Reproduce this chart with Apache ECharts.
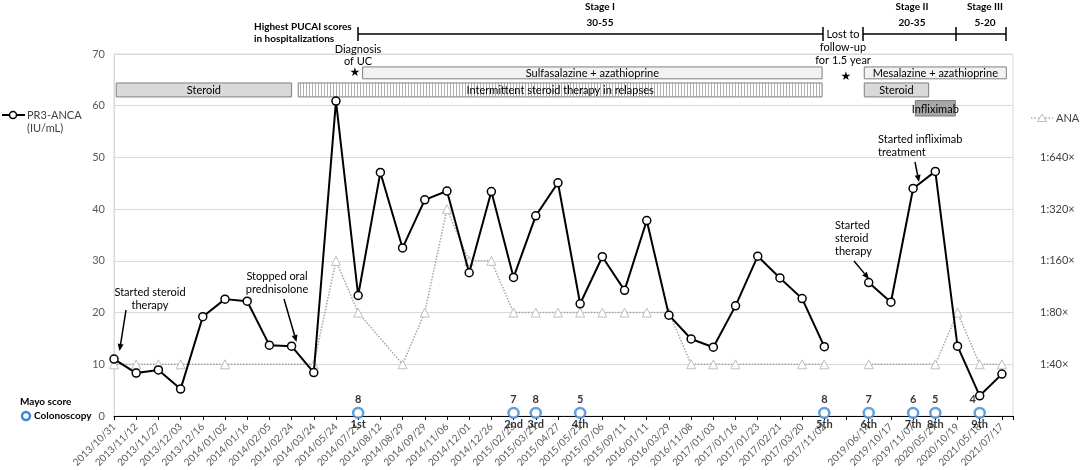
<!DOCTYPE html>
<html>
<head>
<meta charset="utf-8">
<script src="https://cdn.jsdelivr.net/npm/echarts@6/dist/echarts.min.js"></script>
<style>
  html, body { margin: 0; padding: 0; background: #fff; }
  #chart { width: 1084px; height: 470px; }
</style>
</head>
<body>
<div id="chart"></div>
<script>
// PR3-ANCA and ANA course with treatments and colonoscopies

// visit dates (blank = 1.5 year lost to follow-up)
const categories = [
  '2013/10/31', '2013/11/12', '2013/11/27', '2013/12/03', '2013/12/16', '2014/01/02',
  '2014/01/16', '2014/02/05', '2014/02/24', '2014/03/24', '2014/05/24', '2014/07/21',
  '2014/08/12', '2014/08/29', '2014/09/29', '2014/11/06', '2014/12/01', '2014/12/26',
  '2015/02/23', '2015/03/21', '2015/04/27', '2015/05/21', '2015/07/06', '2015/09/11',
  '2016/01/11', '2016/03/29', '2016/11/08', '2017/01/03', '2017/01/16', '2017/01/23',
  '2017/02/21', '2017/03/20', '2017/11/02', '', '2019/06/14', '2019/10/17',
  '2019/11/07', '2020/05/29', '2020/10/19', '2021/05/18', '2021/07/17'
];

// PR3-ANCA (IU/mL)
const pr3 = [
  11.0, 8.3, 8.9, 5.2, 19.2, 22.6, 22.2, 13.7, 13.5, 8.4, 60.9, 23.3,
  47.1, 32.5, 41.8, 43.5, 27.7, 43.4, 26.8, 38.7, 45.1, 21.7, 30.8, 24.3,
  37.8, 19.5, 14.9, 13.3, 21.3, 30.9, 26.7, 22.7, 13.4, null, 25.8, 22.0,
  44.0, 47.3, 13.5, 3.9, 8.1
];

// ANA titer level (10 = 1:40, 20 = 1:80 ...), null = not measured
const ana = [
  10, 10, 10, 10, null, 10, null, null, null, 10, 30, 20,
  null, 10, 20, 40, 30, 30, 20, 20, 20, 20, 20, 20,
  20, 20, 10, 10, 10, null, null, 10, 10, null, 10, null,
  null, 10, 20, 10, 10
];
const anaTicks = ['', '1:40×', '1:80×', '1:160×', '1:320×', '1:640×', '', ''];

// colonoscopies
const colonoscopyDates = ['2014/07/21', '2015/02/23', '2015/03/21', '2015/05/21', '2017/11/02',
  '2019/06/14', '2019/11/07', '2020/05/29', '2021/05/18'];
const mayoScores = [8, 7, 8, 5, 8, 7, 6, 5, 4];
const colonoscopyNames = ['1st', '2nd', '3rd', '4th', '5th', '6th', '7th', '8th', '9th'];

// treatments (spans in visit index)
const treatments = ['Steroid', 'Intermittent steroid therapy in relapses', 'Sulfasalazine + azathioprine',
  'Mesalazine + azathioprine', 'Steroid', 'Infliximab'];
const treatmentFrom = [0.1, 8.3, 11.2, 33.8, 33.8, 36.1];
const treatmentTo = [8.0, 31.9, 31.9, 40.2, 36.7, 37.9];
const treatmentRow = [1, 1, 0, 0, 1, 2];

const FONT = 'Lato, "Open Sans", sans-serif';
const gap = categories.indexOf('');
const boxRows = [[67.5, 65.2], [64.4, 61.7], [61.0, 58.0]];
const boxFill = ['#d9d9d9', 'hatch', '#f2f2f2', '#f2f2f2', '#d9d9d9', '#a6a6a6'];

// vertical hatch pattern for intermittent steroid box
const hatch = document.createElement('canvas');
hatch.width = 3; hatch.height = 4;
const hc = hatch.getContext('2d');
hc.fillStyle = '#fff'; hc.fillRect(0, 0, 3, 4);
hc.fillStyle = '#b0b0b0'; hc.fillRect(0, 0, 1, 4);

const pr3Data = pr3.map((v, i) => [i, v]);
const anaData = ana.map((v, i) => (i === gap ? [i, null] : (v == null ? null : [i, v]))).filter(d => d);
const colonoscopyData = colonoscopyDates.map((d, k) => [categories.indexOf(d), 0.6, mayoScores[k], colonoscopyNames[k]]);
const treatmentData = treatments.map((n, i) => [treatmentFrom[i], treatmentTo[i], treatmentRow[i]]);

let chart = echarts.init(document.getElementById('chart'));

function txt(text, x, y, o) {
  o = o || {};
  return {
    type: 'text', x: x, y: y, z: 50,
    style: {
      text: text, fill: o.color || '#000', fontSize: o.size || 11, fontFamily: o.family || FONT,
      fontWeight: o.bold ? 'bold' : 'normal', align: o.align || 'center', verticalAlign: 'middle'
    }
  };
}

function arrow(x1, y1, x2, y2) {
  const a = Math.atan2(y2 - y1, x2 - x1), L = 7, W = 3;
  const bx = x2 - L * Math.cos(a), by = y2 - L * Math.sin(a);
  return [
    { type: 'line', z: 50, shape: { x1: x1, y1: y1, x2: bx, y2: by }, style: { stroke: '#000', lineWidth: 1.5 } },
    { type: 'polygon', z: 50, shape: { points: [[x2, y2], [bx + W * Math.sin(a), by - W * Math.cos(a)], [bx - W * Math.sin(a), by + W * Math.cos(a)]] },
      style: { fill: '#000' } }
  ];
}

function tick(x) {
  return { type: 'line', z: 50, shape: { x1: x, y1: 27, x2: x, y2: 41 }, style: { stroke: '#000', lineWidth: 1.5 } };
}

const graphics = [
  // legends
  { type: 'line', shape: { x1: 2, y1: 115, x2: 25, y2: 115 }, style: { stroke: '#000', lineWidth: 2 } },
  { type: 'circle', shape: { cx: 13, cy: 115, r: 3.5 }, style: { fill: '#fff', stroke: '#000', lineWidth: 1.5 } },
  txt('PR3-ANCA', 27, 115, { align: 'left', color: '#404040' }),
  txt('(IU/mL)', 27, 128, { align: 'left', color: '#404040' }),
  { type: 'line', shape: { x1: 1031, y1: 118, x2: 1053, y2: 118 }, style: { stroke: '#a6a6a6', lineWidth: 1.5, lineDash: [1.5, 2] } },
  { type: 'polygon', shape: { points: [[1042, 114], [1046.5, 121.5], [1037.5, 121.5]] }, style: { fill: '#fff', stroke: '#bfbfbf', lineWidth: 1 } },
  txt('ANA', 1056, 118, { align: 'left', color: '#404040' }),
  txt('Mayo score', 20, 402, { align: 'left', size: 10, bold: true }),
  { type: 'circle', shape: { cx: 26, cy: 416, r: 4 }, style: { fill: '#fff', stroke: '#3a87d6', lineWidth: 2.5 } },
  txt('Colonoscopy', 34, 416, { align: 'left', size: 10, bold: true }),
  // PUCAI timeline
  txt('Highest PUCAI scores', 254, 27, { align: 'left', size: 10, bold: true }),
  txt('in hospitalizations', 254, 39, { align: 'left', size: 10, bold: true }),
  { type: 'line', shape: { x1: 358, y1: 34, x2: 823, y2: 34 }, style: { stroke: '#000', lineWidth: 1.5 } },
  { type: 'line', shape: { x1: 863, y1: 34, x2: 1006, y2: 34 }, style: { stroke: '#000', lineWidth: 1.5 } },
  tick(358), tick(823), tick(863), tick(956), tick(1006),
  txt('Stage I', 600, 7, { size: 10, bold: true }),
  txt('30-55', 600, 23, { size: 10, bold: true }),
  txt('Stage II', 912, 7, { size: 10, bold: true }),
  txt('20-35', 912, 23, { size: 10, bold: true }),
  txt('Stage III', 985, 7, { size: 10, bold: true }),
  txt('5-20', 985, 23, { size: 10, bold: true }),
  txt('Lost to', 843, 34), txt('follow-up', 843, 47), txt('for 1.5 year', 843, 60),
  txt('Diagnosis', 358, 49), txt('of UC', 358, 61),
  txt('★', 355, 73, { family: 'DejaVu Sans', size: 12 }),
  txt('★', 846, 77, { family: 'DejaVu Sans', size: 12 }),
  // notes
  txt('Started steroid', 150, 292), txt('therapy', 150, 305),
  ...arrow(126, 310, 119.5, 351),
  txt('Stopped oral', 277, 276), txt('prednisolone', 277, 289),
  ...arrow(284, 299, 296.5, 342),
  txt('Started', 835, 225, { align: 'left' }), txt('steroid', 835, 238, { align: 'left' }), txt('therapy', 835, 251, { align: 'left' }),
  ...arrow(854, 261, 869, 279),
  txt('Started infliximab', 878, 139, { align: 'left' }), txt('treatment', 878, 152, { align: 'left' }),
  ...arrow(915, 162, 919, 182)
];

let option = {
  animation: false,
  textStyle: { fontFamily: FONT },
  grid: { left: 114, right: 71, top: 54, bottom: 54, show: true, borderColor: '#d9d9d9', borderWidth: 1 },
  xAxis: {
    type: 'value', min: 0, max: 40.5, interval: 1,
    axisLine: { lineStyle: { color: '#000', width: 1 } },
    axisTick: { show: true, length: 4, lineStyle: { color: '#000' } },
    axisLabel: {
      rotate: 45, fontSize: 10, color: '#595959', margin: 9,
      showMinLabel: true, showMaxLabel: true,
      formatter: v => categories[v] || ''
    },
    splitLine: { show: false }
  },
  yAxis: [
    {
      type: 'value', min: 0, max: 70, interval: 10,
      axisLine: { show: true, lineStyle: { color: '#d9d9d9' } },
      axisTick: { show: false },
      axisLabel: { fontSize: 11, color: '#595959', margin: 9 },
      splitLine: { lineStyle: { color: '#d9d9d9', width: 1 } }
    },
    {
      type: 'value', min: 0, max: 70, interval: 10, position: 'right',
      axisLine: { show: false }, axisTick: { show: false },
      axisLabel: { fontSize: 11, color: '#404040', margin: 27, formatter: (v) => anaTicks[v / 10] || '' },
      splitLine: { show: false }
    }
  ],
  graphic: graphics,
  series: [
    {
      name: 'Treatments', type: 'custom', z: 3,
      data: treatmentData,
      encode: { x: [0, 1] },
      renderItem: function (params, api) {
        const i = params.dataIndex;
        const row = boxRows[api.value(2)];
        const p1 = api.coord([api.value(0), row[0]]);
        const p2 = api.coord([api.value(1), row[1]]);
        const fill = boxFill[i] === 'hatch' ? { image: hatch, repeat: 'repeat' } : boxFill[i];
        return {
          type: 'group',
          children: [
            { type: 'rect', shape: { x: p1[0], y: p1[1], width: p2[0] - p1[0], height: p2[1] - p1[1] },
              style: { fill: fill, stroke: '#7f7f7f', lineWidth: 1 } },
            { type: 'text', style: { text: treatments[i], x: (p1[0] + p2[0]) / 2, y: (p1[1] + p2[1]) / 2 + 1,
              align: 'center', verticalAlign: 'middle', fontSize: 11, fontFamily: FONT, fill: '#000' } }
          ]
        };
      }
    },
    {
      name: 'ANA', type: 'line', yAxisIndex: 1, z: 4,
      data: anaData,
      symbol: 'triangle', symbolSize: 9,
      lineStyle: { color: '#a6a6a6', width: 1.5, type: 'dotted' },
      itemStyle: { color: '#fff', borderColor: '#bfbfbf', borderWidth: 1 }
    },
    {
      name: 'PR3-ANCA', type: 'line', z: 5,
      data: pr3Data,
      symbol: 'circle', symbolSize: 8,
      lineStyle: { color: '#000', width: 2 },
      itemStyle: { color: '#fff', borderColor: '#000', borderWidth: 1.5 }
    },
    {
      name: 'Colonoscopy', type: 'scatter', z: 6, clip: false,
      data: colonoscopyData,
      symbol: 'circle', symbolSize: 10,
      itemStyle: { color: '#fff', borderColor: '#3a87d6', borderWidth: 2.5 },
      label: { show: true, position: 'top', distance: 2, fontSize: 11, fontWeight: 'bold', color: '#000',
        formatter: p => p.value[2] },
      labelLayout: p => (p.dataIndex === colonoscopyDates.length - 1 ? { dx: -7 } : {})
    },
    {
      name: 'Colonoscopy no.', type: 'scatter', z: 6, clip: false,
      data: colonoscopyData,
      symbol: 'circle', symbolSize: 10,
      itemStyle: { color: 'rgba(0,0,0,0)' },
      label: { show: true, position: 'bottom', distance: 1, fontSize: 11, fontWeight: 'bold', color: '#000',
        formatter: p => p.value[3] }
    }
  ]
};

chart.setOption(option);
</script>
</body>
</html>
